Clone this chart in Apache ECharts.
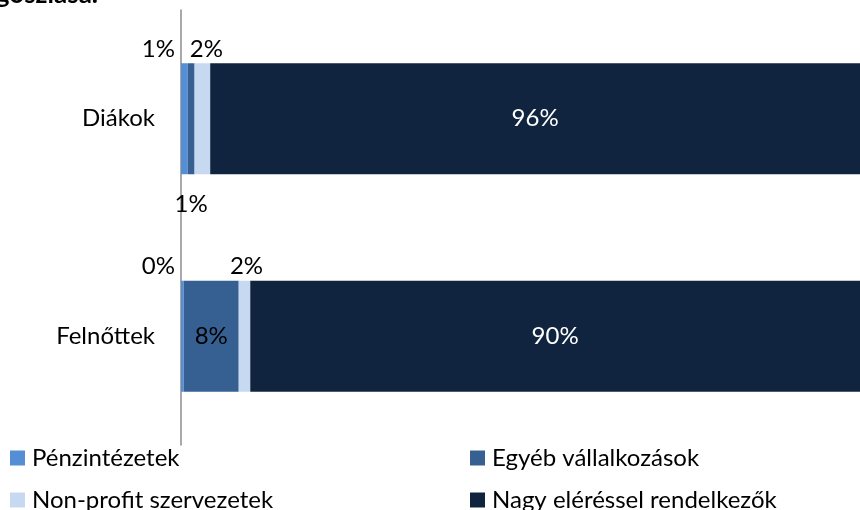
<!DOCTYPE html>
<html>
<head>
<meta charset="utf-8">
<script src="https://cdn.jsdelivr.net/npm/echarts@6/dist/echarts.min.js"></script>
<style>
  html, body { margin: 0; padding: 0; background: #fff; }
  #chart { width: 860px; height: 510px; }
</style>
</head>
<body>
<div id="chart"></div>
<script>
// ---- data ----
const categories = ['Diákok', 'Felnőttek'];
const seriesNames = ['Pénzintézetek', 'Egyéb vállalkozások', 'Non-profit szervezetek', 'Nagy eléréssel rendelkezők'];
const penzintezetek = [1.0, 0.4];
const egyebVallalkozasok = [1.0, 8.1];
const nonProfit = [2.3, 1.7];
const nagyElerestel = [95.7, 89.8];
const titleText = 'megoszlása.';

// ---- styles ----
const FONT = 'Lato';
const colors = ['#558ED5', '#376092', '#C6D9F1', '#10243F'];
const values = [penzintezetek, egyebVallalkozasok, nonProfit, nagyElerestel];
// label placement per series / category
const labelCfg = [
  [{ position: 'top', distance: 2, offset: [-26, 0], color: '#000' },
   { position: 'top', distance: 2, offset: [-24, 0], color: '#000' }],
  [{ position: 'bottom', distance: 18, color: '#000' },
   { position: 'inside', color: '#000' }],
  [{ position: 'top', distance: 2, offset: [4, 0], color: '#000' },
   { position: 'top', distance: 2, offset: [2, 0], color: '#000' }],
  [{ position: 'inside', color: '#fff' },
   { position: 'inside', color: '#fff' }]
];

const series = seriesNames.map((name, s) => ({
  name: name,
  type: 'bar',
  stack: 'total',
  barWidth: 111,
  clip: false,
  itemStyle: { color: colors[s] },
  label: {
    show: true,
    fontFamily: FONT,
    fontSize: 24,
    formatter: p => Math.round(p.value) + '%'
  },
  data: values[s].map((v, i) => ({ value: v, label: labelCfg[s][i] }))
}));

const legendPos = [
  { left: 10, top: 445 },
  { left: 470, top: 445 },
  { left: 10, top: 487 },
  { left: 470, top: 487 }
];

const chart = echarts.init(document.getElementById('chart'), null, { renderer: 'canvas' });
chart.setOption({
  animation: false,
  backgroundColor: '#fff',
  textStyle: { fontFamily: FONT },
  graphic: [{
    type: 'text',
    x: 98,
    y: 8,
    style: {
      text: titleText,
      font: 'bold 26px Lato',
      fill: '#000',
      align: 'right',
      verticalAlign: 'bottom'
    }
  }],
  legend: seriesNames.map((n, i) => ({
    data: [n],
    left: legendPos[i].left,
    top: legendPos[i].top,
    padding: 0,
    icon: 'rect',
    itemWidth: 15,
    itemHeight: 15,
    selectedMode: false,
    textStyle: { fontFamily: FONT, fontSize: 24, color: '#000', lineHeight: 26, padding: [0, 0, 0, 2] }
  })),
  grid: { left: 181, right: -13, top: 10, bottom: 65, containLabel: false },
  xAxis: {
    type: 'value',
    min: 0,
    max: 100,
    show: false
  },
  yAxis: {
    type: 'category',
    data: categories,
    inverse: true,
    axisLine: { show: true, lineStyle: { color: '#8c8c8c', width: 1.5 } },
    axisTick: { show: false },
    axisLabel: { margin: 26, fontFamily: FONT, fontSize: 24, color: '#000' },
    splitLine: { show: false }
  },
  series: series
});
</script>
</body>
</html>
